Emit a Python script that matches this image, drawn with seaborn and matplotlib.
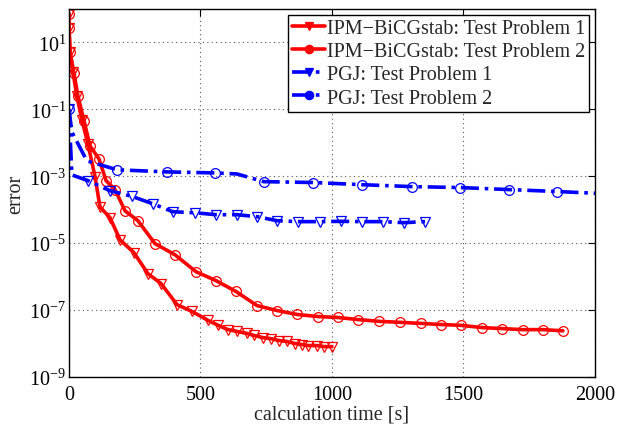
import numpy as np
import pandas as pd
import matplotlib
matplotlib.use("Agg")
import matplotlib.pyplot as plt
import matplotlib.ticker as mticker
import seaborn as sns

# IPM-BiCGstab, test problem 1 (red, triangles)
ipm1_t = [0, 0, 4, 15, 30, 49, 72, 99, 118, 156, 194, 247, 300, 350, 411, 468, 529, 567,
          605, 639, 677, 703, 738, 768, 798, 829, 859, 886, 909, 943, 970, 1000]
ipm1_err = [71, 27, 5.2, 1.3, 0.25, 0.049, 9.3e-3, 9.8e-4, 1.2e-4, 5.8e-5, 1.26e-5, 5.2e-6,
            1.23e-6, 6.2e-7, 1.45e-7, 9.1e-8, 4.9e-8, 3.5e-8, 2.6e-8, 2.3e-8, 2.0e-8, 1.74e-8,
            1.5e-8, 1.4e-8, 1.23e-8, 1.15e-8, 1.0e-8, 9.3e-9, 8.7e-9, 8.7e-9, 8.1e-9, 8.1e-9]

# IPM-BiCGstab, test problem 2 (red, circles)
ipm2_t = [0, 0, 4, 19, 34, 57, 80, 114, 141, 175, 213, 262, 327, 403, 483, 559, 635, 715,
          791, 867, 947, 1023, 1099, 1179, 1259, 1338, 1414, 1490, 1570, 1646, 1726, 1802, 1878]
ipm2_err = [71, 27, 5.2, 1.2, 0.25, 0.046, 8.1e-3, 3.3e-3, 7.4e-4, 4.0e-4, 9.3e-5, 4.7e-5,
            9.7e-6, 4.5e-6, 1.4e-6, 7.6e-7, 3.6e-7, 1.36e-7, 9.7e-8, 7.4e-8, 6.4e-8, 6.0e-8,
            5.2e-8, 4.6e-8, 4.3e-8, 4.0e-8, 3.7e-8, 3.5e-8, 3.0e-8, 2.8e-8, 2.6e-8, 2.6e-8, 2.4e-8]

# PGJ, test problem 1 (blue, triangles)
pgj1_t = [0, 11, 72, 156, 240, 319, 395, 479, 559, 639, 715, 791, 871, 954, 1034, 1114,
          1194, 1274, 1354]
pgj1_err = [0.10, 1.1e-3, 7.4e-4, 3.7e-4, 2.5e-4, 1.5e-4, 8.7e-5, 8.1e-5, 7.1e-5, 7.1e-5,
            6.2e-5, 4.7e-5, 4.4e-5, 4.4e-5, 4.5e-5, 4.4e-5, 4.4e-5, 4.1e-5, 4.4e-5]
pgj1_marks = [0] + list(range(2, 19))

# PGJ, test problem 2 (blue, circles)
pgj2_t = [0, 11, 68, 183, 373, 555, 639, 741, 928, 1114, 1304, 1487, 1673, 1856, 2042]
pgj2_err = [0.10, 0.021, 2.9e-3, 1.56e-3, 1.35e-3, 1.26e-3, 1.17e-3, 6.9e-4, 6.5e-4,
            5.6e-4, 4.9e-4, 4.6e-4, 4.0e-4, 3.5e-4, 3.0e-4]
pgj2_marks = [0, 3, 4, 5, 7, 8, 9, 10, 11, 12, 13, 14]

labels = ["IPM\u2212BiCGstab: Test Problem 1", "IPM\u2212BiCGstab: Test Problem 2",
          "PGJ: Test Problem 1", "PGJ: Test Problem 2"]

sns.set_style("white")
plt.rcParams["font.family"] = ["Liberation Serif", "DejaVu Serif"]
plt.rcParams["mathtext.fontset"] = "custom"
plt.rcParams["mathtext.rm"] = "Liberation Serif"
plt.rcParams["mathtext.it"] = "Liberation Serif:italic"

fig = plt.figure(figsize=(6.17, 4.27), dpi=100)
ax = fig.add_axes([0.1118, 0.1148, 0.8525, 0.8618])

red = "#ff0000"
blue = "#0000ff"
dashdot = (0, (5, 1.6, 1, 1.6))
common = dict(lw=2.6, ms=7, mew=0.9, mfc="none", sort=False, estimator=None, ax=ax)

sns.lineplot(x=ipm1_t, y=ipm1_err, color=red, marker="v", mec=red, label=labels[0], **common)
sns.lineplot(x=ipm2_t, y=ipm2_err, color=red, marker="o", mec=red, label=labels[1], **common)
sns.lineplot(x=pgj1_t, y=pgj1_err, color=blue, marker="v", mec=blue, linestyle=dashdot,
             markevery=pgj1_marks, label=labels[2], **common)
sns.lineplot(x=pgj2_t, y=pgj2_err, color=blue, marker="o", mec=blue, linestyle=dashdot,
             markevery=pgj2_marks, label=labels[3], **common)

ax.set_yscale("log")
ax.set_xlim(0, 2000)
ax.set_ylim(1e-9, 1e2)
ax.set_xticks([0, 500, 1000, 1500, 2000])
ax.set_yticks([1e-9, 1e-7, 1e-5, 1e-3, 1e-1, 1e1])
ax.yaxis.set_minor_locator(mticker.NullLocator())
ax.tick_params(direction="in", length=5, width=0.8, labelsize=14.5, top=True, right=True,
               colors="black", pad=6)
ax.tick_params(axis="y", pad=2)
ax.grid(True, linestyle=(0, (1, 3)), color="#555555", lw=0.8)
for s in ax.spines.values():
    s.set_visible(True)
    s.set_color("black")
    s.set_linewidth(1.0)

ax.set_xlabel("calculation time [s]", fontsize=14.5, labelpad=0)
ax.set_ylabel("error", fontsize=14.5, labelpad=3)

leg = ax.legend(loc="upper right", fontsize=14.5, frameon=True, fancybox=False,
                edgecolor="black", framealpha=1, borderaxespad=0.3, handlelength=1.6,
                handletextpad=0.1, labelspacing=0.2, borderpad=0.2)
leg.get_frame().set_linewidth(1.0)
for h in leg.legend_handles:
    h.set_markerfacecolor(h.get_color())
    h.set_markersize(6)

fig.savefig("out.png", dpi=100, facecolor="white")
